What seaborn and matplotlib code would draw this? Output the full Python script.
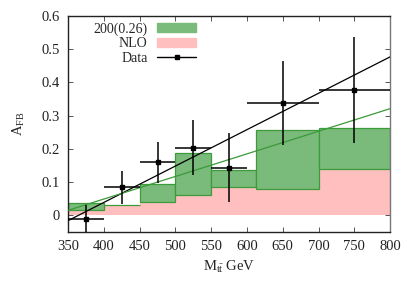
import numpy as np
import pandas as pd
import seaborn as sns
import matplotlib
matplotlib.use("Agg")
import matplotlib.pyplot as plt
from matplotlib.lines import Line2D
from matplotlib.patches import Patch
from matplotlib.ticker import FuncFormatter

# bins for the theory bands
bin_edges = [350, 400, 450, 500, 550, 612, 700, 800]
nlo = [0.015, 0.031, 0.041, 0.061, 0.084, 0.079, 0.138]
model = [0.038, 0.031, 0.095, 0.189, 0.135, 0.256, 0.264]

# data points
data_x = [375, 425, 475, 525, 575, 650, 750]
data_xlo = [350, 400, 450, 500, 550, 600, 700]
data_xhi = [400, 450, 500, 550, 600, 700, 800]
data_y = [-0.010, 0.084, 0.159, 0.204, 0.143, 0.338, 0.377]
data_err = [0.040, 0.050, 0.062, 0.082, 0.104, 0.127, 0.160]

# fit lines (end points)
fit_x = [350, 800]
fit_data = [-0.016, 0.477]
fit_model = [0.015, 0.321]

sns.set_theme(style="ticks")
plt.rcParams['font.family'] = ['Liberation Serif', 'DejaVu Serif']
plt.rcParams['mathtext.fontset'] = 'custom'
plt.rcParams['mathtext.rm'] = 'Liberation Serif'
plt.rcParams['mathtext.it'] = 'Liberation Serif:italic'

fig = plt.figure(figsize=(4.15, 2.91), dpi=100)
ax = fig.add_axes([0.164, 0.203, 0.776, 0.742])

edges = np.array(bin_edges)
widths = np.diff(edges)
lefts = edges[:-1]
nlo_a = np.array(nlo)
model_a = np.array(model)

pink = "#ffbfbf"
green_fill = "#7aba7a"
green_edge = "#3c9c3c"

ax.bar(lefts, nlo_a, width=widths, align='edge', color=pink, linewidth=0, zorder=1)
ax.bar(lefts, model_a - nlo_a, bottom=nlo_a, width=widths, align='edge',
       color=green_fill, edgecolor=green_edge, linewidth=0.9, zorder=2)

fits = pd.DataFrame({'x': fit_x + fit_x,
                     'y': fit_data + fit_model,
                     'fit': ['data'] * 2 + ['model'] * 2})
sns.lineplot(data=fits, x='x', y='y', hue='fit',
             palette={'data': 'black', 'model': '#3a9a3a'},
             linewidth=0.9, legend=False, ax=ax, zorder=3)

xerr = [np.array(data_x) - np.array(data_xlo), np.array(data_xhi) - np.array(data_x)]
ax.errorbar(data_x, data_y, yerr=data_err, xerr=xerr, fmt='s', color='black',
            markersize=3, elinewidth=1.1, capsize=0, zorder=4)

ax.set_xlim(350, 800)
ax.set_ylim(-0.05, 0.6)
ax.set_xticks(np.arange(350, 801, 50))
ax.set_yticks(np.arange(0, 0.61, 0.1))
ax.yaxis.set_major_formatter(FuncFormatter(lambda v, p: "%g" % round(v, 2)))
ax.tick_params(direction='in', length=3.5, width=0.7, color='#555555',
               top=True, right=True, labelsize=10.5, pad=6, labelcolor='#222222')
for s in ax.spines.values():
    s.set_linewidth(1.0)
    s.set_color('#222222')
ax.spines['right'].set_color('#777777')

ax.set_xlabel(r"M$_{\rm t\bar{t}}$ GeV", fontsize=10.5, labelpad=4)
ax.set_ylabel(r"A$_{\rm FB}$", fontsize=10.5, labelpad=10)

handles = [Patch(facecolor=green_fill, edgecolor=green_fill),
           Patch(facecolor=pink, edgecolor=pink),
           Line2D([0], [0], color='black', marker='s', markersize=3, linewidth=1)]
labels = ["200(0.26)", "NLO", "Data"]
leg = ax.legend(handles, labels, loc='upper right', bbox_to_anchor=(0.43, 1.02),
                frameon=False, markerfirst=False, fontsize=10,
                handlelength=2.8, handleheight=0.6, handletextpad=0.7,
                labelspacing=0.12, borderpad=0.25)
for col in leg._legend_handle_box.get_children():
    col.align = "right"

fig.savefig("out.png", dpi=100)
